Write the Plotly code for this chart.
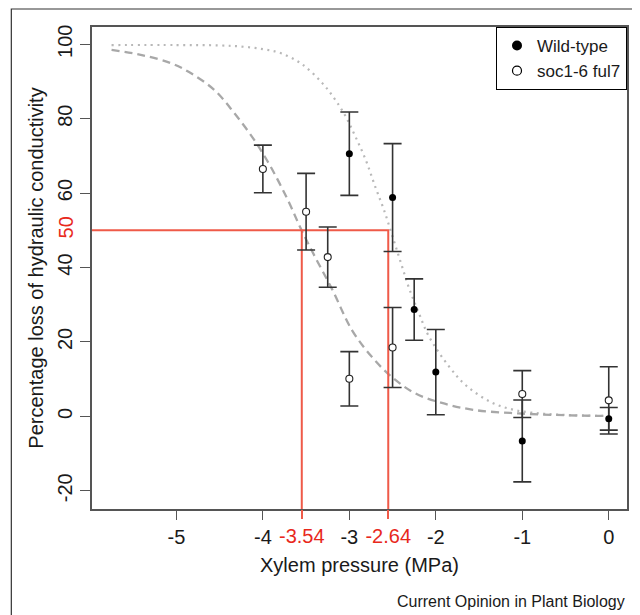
import plotly.graph_objects as go

# ---- data ----
wt_x = [-3.0, -2.5, -2.25, -2.0, -1.0, 0.0]
wt_y = [70.6, 58.8, 28.7, 11.9, -6.6, -0.65]
wt_err = [11.2, 14.5, 8.25, 11.45, 11.0, 3.05]

mut_x = [-4.0, -3.5, -3.25, -3.0, -2.5, -1.0, 0.0]
mut_y = [66.5, 55.0, 42.8, 10.1, 18.5, 6.0, 4.3]
mut_err = [6.4, 10.3, 8.1, 7.3, 10.75, 6.3, 9.05]

# fitted curves
wt_fit_x = [-5.75, -5.0, -4.5, -4.25, -4.0, -3.79, -3.55, -3.31, -3.16, -3.04, -2.93,
            -2.81, -2.70, -2.60, -2.50, -2.40, -2.31, -2.20, -2.08, -1.85, -1.65,
            -1.36, -1.09, -0.75, -0.4, 0.0]
wt_fit_y = [99.8, 99.8, 99.7, 99.4, 98.7, 97.6, 94.7, 89.5, 85.0, 80.5, 75.2,
            68.9, 61.7, 55.5, 48.3, 41.0, 34.5, 28.0, 21.5, 13.5, 8.3,
            3.8, 1.7, 0.7, 0.3, 0.1]

mut_fit_x = [-5.75, -5.40, -5.06, -4.83, -4.56, -4.33, -4.10, -3.91, -3.71, -3.56, -3.40,
             -3.20, -2.97, -2.74, -2.51, -2.24, -1.93, -1.55, -1.05, -0.5, 0.0]
mut_fit_y = [98.5, 97.1, 94.9, 92.2, 87.7, 81.5, 74.3, 67.1, 58.1, 50.4, 43.0,
             34.2, 23.2, 16.0, 10.6, 6.2, 3.6, 1.7, 0.8, 0.3, 0.1]

# P50 markers
p50_level = 50
p50_pos = [-3.55, -2.55]
p50_labels = ["-3.54", "-2.64"]

x_ticks = [-5, -4, -3, -2, -1, 0]
y_ticks = [100, 80, 60, 40, 20, 0, -20]
x_range = [-5.976, 0.211]
y_range = [-24.9, 104.65]

FONT = "Liberation Sans, Arial, Helvetica, sans-serif"
RED_LINE = "#ef5a48"
RED_TEXT = "#e8281c"
INK = "#1a1a1a"
AXIS = "#555555"

fig = go.Figure()

# fitted curves
fig.add_trace(go.Scatter(x=wt_fit_x, y=wt_fit_y, mode="lines", line_shape="spline",
                         line=dict(color="#b8b8b8", width=2.2, dash="2px,4.5px"),
                         showlegend=False, hoverinfo="skip"))
fig.add_trace(go.Scatter(x=mut_fit_x, y=mut_fit_y, mode="lines", line_shape="spline",
                         line=dict(color="#a8a8a8", width=2.3, dash="8px,5px"),
                         showlegend=False, hoverinfo="skip"))

# P50 red guide lines
fig.add_trace(go.Scatter(x=[x_range[0], p50_pos[1], p50_pos[1]],
                         y=[p50_level, p50_level, y_range[0]],
                         mode="lines", line=dict(color=RED_LINE, width=2),
                         showlegend=False, hoverinfo="skip"))
fig.add_trace(go.Scatter(x=[p50_pos[0], p50_pos[0]], y=[p50_level, y_range[0]],
                         mode="lines", line=dict(color=RED_LINE, width=2),
                         showlegend=False, hoverinfo="skip"))

# data points with error bars
fig.add_trace(go.Scatter(x=mut_x, y=mut_y, mode="markers",
                         marker=dict(symbol="circle", size=7, color="white",
                                     line=dict(color="#222222", width=1.1)),
                         error_y=dict(type="data", array=mut_err, color="#333333",
                                      thickness=1.6, width=9),
                         showlegend=False))
fig.add_trace(go.Scatter(x=wt_x, y=wt_y, mode="markers",
                         marker=dict(symbol="circle", size=7, color="black"),
                         error_y=dict(type="data", array=wt_err, color="#333333",
                                      thickness=1.6, width=9),
                         showlegend=False))

# legend entries
fig.add_trace(go.Scatter(x=[None], y=[None], mode="markers", name="Wild-type",
                         marker=dict(symbol="circle", size=10, color="black")))
fig.add_trace(go.Scatter(x=[None], y=[None], mode="markers", name="soc1-6 ful7",
                         marker=dict(symbol="circle", size=9, color="white",
                                     line=dict(color="black", width=1.2))))

# carrier trace for the red tick axes
fig.add_trace(go.Scatter(x=[None], y=[None], xaxis="x2", yaxis="y2",
                         showlegend=False, hoverinfo="skip"))

fig.update_layout(
    width=632, height=607,
    margin=dict(l=84, r=11, t=19, b=106),
    paper_bgcolor="white", plot_bgcolor="white",
    font=dict(family=FONT, size=20, color=INK),
    xaxis=dict(range=x_range, tickvals=x_ticks, ticktext=[str(v) for v in x_ticks],
               ticks="outside", ticklen=9, tickwidth=1.3, tickcolor=AXIS,
               showline=True, linecolor=AXIS, linewidth=1.5, mirror=True,
               showgrid=False, zeroline=False,
               tickfont=dict(size=20, color=INK),
               title=dict(text="Xylem pressure (MPa)", font=dict(size=20, color=INK),
                          standoff=11)),
    yaxis=dict(range=y_range, tickvals=y_ticks, ticktext=[str(v) for v in y_ticks],
               ticks="outside", ticklen=10, tickwidth=1.3, tickcolor=AXIS,
               showline=True, linecolor=AXIS, linewidth=1.5, mirror=True,
               showgrid=False, zeroline=False, tickangle=-90,
               tickfont=dict(size=20, color=INK),
               title=dict(text="Percentage loss of hydraulic conductivity",
                          font=dict(size=20, color=INK), standoff=5)),
    xaxis2=dict(overlaying="x", side="bottom", range=x_range, tickvals=p50_pos,
                ticktext=p50_labels, ticks="outside", ticklen=9, tickwidth=2,
                tickcolor=RED_LINE, tickfont=dict(size=20, color=RED_TEXT),
                showline=False, showgrid=False, zeroline=False),
    yaxis2=dict(overlaying="y", side="left", range=y_range, tickvals=[p50_level],
                ticktext=[str(p50_level)], ticks="outside", ticklen=10,
                tickcolor="rgba(0,0,0,0)", tickangle=-90,
                tickfont=dict(size=20, color=RED_TEXT),
                showline=False, showgrid=False, zeroline=False),
    legend=dict(x=1, xanchor="right", y=1, yanchor="top",
                bgcolor="white", bordercolor="black", borderwidth=1,
                font=dict(size=17, color=INK), itemwidth=30,
                tracegroupgap=0),
    shapes=[dict(type="rect", xref="paper", yref="paper",
                 x0=-0.1508, x1=1.05, y0=-0.3, y1=1.0373,
                 line=dict(color="#333333", width=1.2), layer="below")],
    annotations=[dict(text="Current Opinion in Plant Biology", xref="paper", yref="paper",
                      x=1.0, xanchor="right", y=-0.191, yanchor="middle",
                      showarrow=False, font=dict(size=16, color=INK))],
)

fig.write_html("out.html")
